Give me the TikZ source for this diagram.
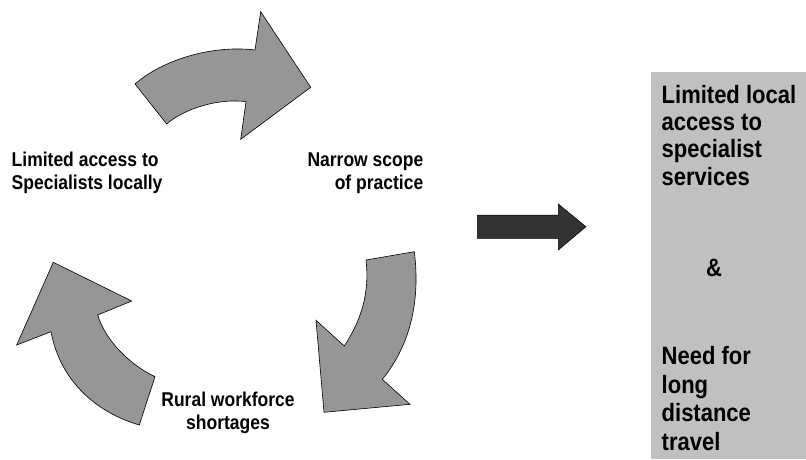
\documentclass[tikz,border=0pt]{standalone}
\usepackage{fontspec}
\setmainfont{Liberation Sans}
\usepackage{graphicx}
\definecolor{arrowgray}{HTML}{969696}
\definecolor{boxgray}{HTML}{C0C0C0}
\definecolor{darkarrow}{HTML}{333333}
\newcommand{\lbl}[4]{\scalebox{1}[1.14]{\fontsize{#1}{#2}\selectfont\bfseries\begin{tabular}[t]{@{}#3@{}}#4\end{tabular}}}
\tikzset{
  cyclearrow/.style={fill=arrowgray, draw=black, line width=0.6pt, line join=miter},
  bigarrow/.style={fill=darkarrow, draw=black, line width=0.5pt},
  txt/.style={inner sep=0pt, outer sep=0pt}
}
\begin{document}
\begin{tikzpicture}[x=1pt,y=-1pt]
\path[use as bounding box] (0,0) rectangle (806,459);
% result box
\fill[boxgray] (651,72.3) rectangle (806,459);
% top cycle arrow
\draw[cyclearrow] (135,84) .. controls (165,58) and (215,45) .. (255,50) -- (260.7,11.7) -- (310.7,87.3) -- (240.7,139.3) -- (246,101.7) .. controls (220,98) and (185,108) .. (166.7,124) -- cycle;
% right cycle arrow
\draw[cyclearrow] (366,260) -- (414.3,251.7) .. controls (421,305) and (408,348) .. (382.3,379.3) -- (410,404.3) -- (324,412.3) -- (316,320.3) -- (344.3,346) .. controls (360,322) and (370,295) .. (366,260) -- cycle;
% left cycle arrow
\draw[cyclearrow] (139.3,425) -- (155,376.7) .. controls (130,365) and (105,340) .. (97.7,315) -- (131.7,301) -- (53.3,262.3) -- (16.7,345) -- (51,331.7) .. controls (60,380) and (95,412) .. (139.3,425) -- cycle;
% dark arrow
\draw[bigarrow] (477.3,215) -- (558.3,215) -- (558.3,204) -- (586,226.7) -- (558.3,250) -- (558.3,238.3) -- (477.3,238.3) -- cycle;
% labels
\node[txt, anchor=base west] (limited) at (11.7,166) {\lbl{17.5}{20.5}{l}{Limited access to\\Specialists locally}};
\node[txt, anchor=base east] (narrow) at (423.3,166) {\lbl{17.5}{20.5}{r}{Narrow scope\\of practice}};
\node[txt, anchor=base] (rural) at (228,406) {\lbl{17.5}{20.5}{c}{Rural workforce\\shortages}};
\node[txt, anchor=base west] (res1) at (661.7,103.3) {\lbl{22}{23.9}{l}{Limited local\\access to\\specialist\\services}};
\node[txt, anchor=base west] (amp) at (706,276.7) {\lbl{22}{23.9}{l}{\&}};
\node[txt, anchor=base west] (res2) at (661.7,364.3) {\lbl{22}{25.3}{l}{Need for\\long\\distance\\travel}};
\end{tikzpicture}
\end{document}
